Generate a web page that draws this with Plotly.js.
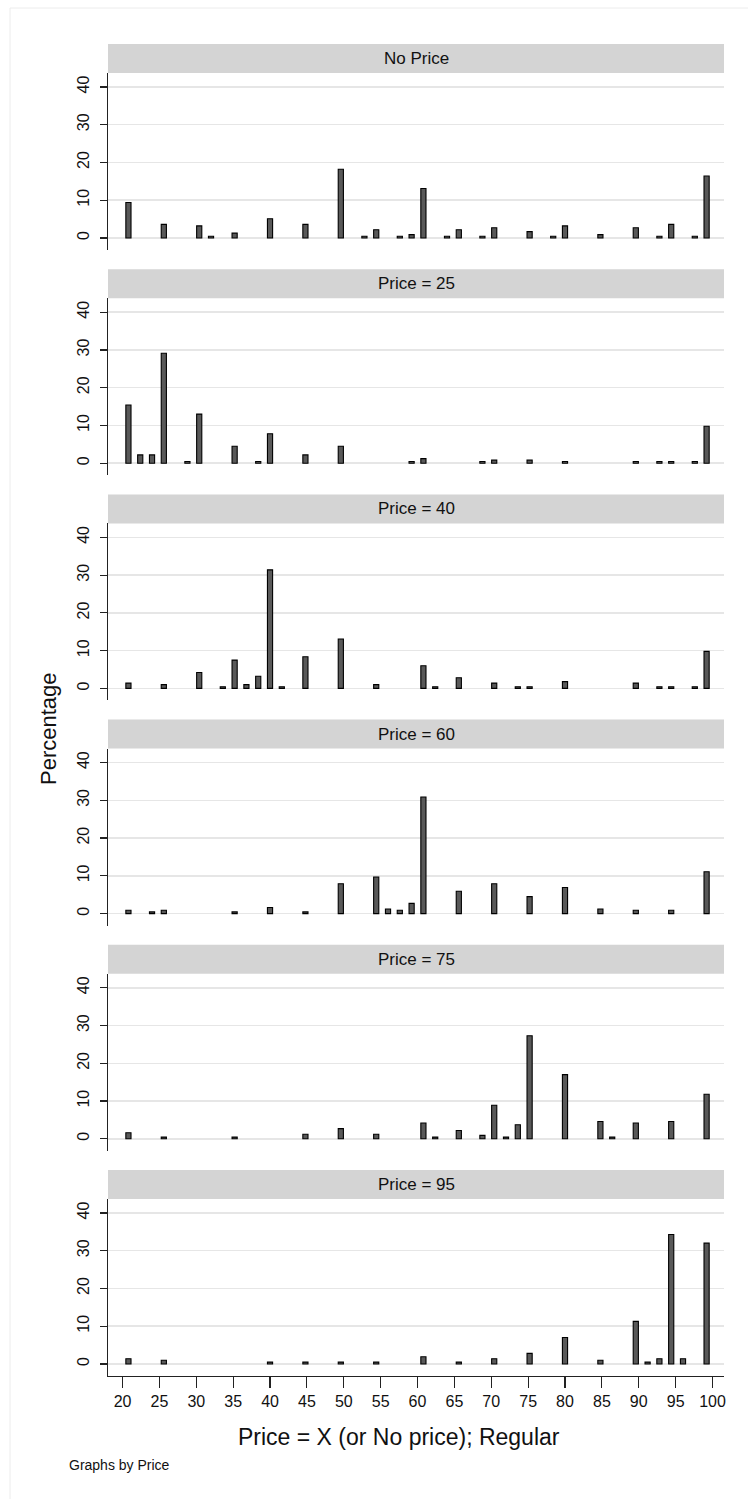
<!DOCTYPE html>
<html>
<head>
<meta charset="utf-8">
<script src="https://cdn.plot.ly/plotly-3.0.1.min.js"></script>
<style>html,body{margin:0;padding:0;background:#fff;}#chart{width:748px;height:1499px;}</style>
</head>
<body>
<div id="chart"></div>
<script>
// ---- data (percentages per histogram bin, bin width 1.6 from 20 to 100) ----
var panelTitles = ["No Price", "Price = 25", "Price = 40", "Price = 60", "Price = 75", "Price = 95"];

var noPriceX = [20.8, 25.6, 30.4, 32.0, 35.2, 40.0, 44.8, 49.6, 52.8, 54.4, 57.6, 59.2, 60.8, 64.0, 65.6, 68.8, 70.4, 75.2, 78.4, 80.0, 84.8, 89.6, 92.8, 94.4, 97.6, 99.2];
var noPriceY = [9.4, 3.6, 3.2, 0.45, 1.3, 5.1, 3.6, 18.2, 0.45, 2.2, 0.45, 0.9, 13.1, 0.45, 2.2, 0.45, 2.7, 1.7, 0.45, 3.2, 0.9, 2.7, 0.45, 3.6, 0.45, 16.4];

var price25X = [20.8, 22.4, 24.0, 25.6, 28.8, 30.4, 35.2, 38.4, 40.0, 44.8, 49.6, 59.2, 60.8, 68.8, 70.4, 75.2, 80.0, 89.6, 92.8, 94.4, 97.6, 99.2];
var price25Y = [15.4, 2.2, 2.2, 29.1, 0.45, 13.0, 4.5, 0.45, 7.8, 2.2, 4.5, 0.45, 1.2, 0.45, 0.8, 0.8, 0.45, 0.45, 0.45, 0.45, 0.45, 9.8];

var price40X = [20.8, 25.6, 30.4, 33.6, 35.2, 36.8, 38.4, 40.0, 41.6, 44.8, 49.6, 54.4, 60.8, 62.4, 65.6, 70.4, 73.6, 75.2, 80.0, 89.6, 92.8, 94.4, 97.6, 99.2];
var price40Y = [1.4, 1.0, 4.2, 0.45, 7.5, 1.0, 3.2, 31.4, 0.45, 8.4, 13.1, 1.0, 6.0, 0.45, 2.8, 1.4, 0.45, 0.45, 1.8, 1.4, 0.45, 0.45, 0.45, 9.8];

var price60X = [20.8, 24.0, 25.6, 35.2, 40.0, 44.8, 49.6, 54.4, 56.0, 57.6, 59.2, 60.8, 65.6, 70.4, 75.2, 80.0, 84.8, 89.6, 94.4, 99.2];
var price60Y = [0.9, 0.45, 0.9, 0.45, 1.6, 0.45, 7.9, 9.7, 1.2, 0.9, 2.7, 30.9, 5.9, 7.9, 4.5, 6.9, 1.2, 0.9, 0.9, 11.1];

var price75X = [20.8, 25.6, 35.2, 44.8, 49.6, 54.4, 60.8, 62.4, 65.6, 68.8, 70.4, 72.0, 73.6, 75.2, 80.0, 84.8, 86.4, 89.6, 94.4, 99.2];
var price75Y = [1.6, 0.45, 0.45, 1.2, 2.7, 1.2, 4.2, 0.45, 2.2, 0.9, 8.9, 0.45, 3.7, 27.3, 17.0, 4.6, 0.45, 4.2, 4.6, 11.8];

var price95X = [20.8, 25.6, 40.0, 44.8, 49.6, 54.4, 60.8, 65.6, 70.4, 75.2, 80.0, 84.8, 89.6, 91.2, 92.8, 94.4, 96.0, 99.2];
var price95Y = [1.4, 1.0, 0.5, 0.5, 0.5, 0.5, 1.9, 0.5, 1.4, 2.8, 7.0, 1.0, 11.3, 0.5, 1.4, 34.3, 1.4, 32.0];

var xTicks = [20, 25, 30, 35, 40, 45, 50, 55, 60, 65, 70, 75, 80, 85, 90, 95, 100];
var yTicks = [0, 10, 20, 30, 40];

var xTitle = "Price = X (or No price); Regular";
var yTitle = "Percentage";
var note = "Graphs by Price";

// ---- layout helpers ----
var W = 748, H = 1499;
var FONT = "Liberation Sans, Arial, Helvetica, sans-serif";
function px(x) { return x / W; }
function py(y) { return 1 - y / H; }

var seriesX = [noPriceX, price25X, price40X, price60X, price75X, price95X];
var seriesY = [noPriceY, price25Y, price40Y, price60Y, price75Y, price95Y];

var plotLeft = 108, plotRight = 724;
var firstStrip = 44, period = 225.2, stripH = 29, panelH = 206;

var traces = [], shapes = [], annotations = [];
var layout = {
  width: W, height: H,
  margin: {l: 0, r: 0, t: 0, b: 0},
  paper_bgcolor: "#ffffff",
  plot_bgcolor: "rgba(0,0,0,0)",
  showlegend: false,
  bargap: 0,
  font: {family: FONT, color: "#111"}
};

for (var i = 0; i < 6; i++) {
  var stripTop = firstStrip + period * i;
  var plotTop = stripTop + stripH, plotBot = stripTop + panelH;
  var n = i + 1;
  var xname = i === 0 ? "x" : "x" + n;
  var yname = i === 0 ? "y" : "y" + n;
  var xkey = i === 0 ? "xaxis" : "xaxis" + n;
  var ykey = i === 0 ? "yaxis" : "yaxis" + n;
  var isLast = (i === 5);
  traces.push({
    type: "bar",
    x: seriesX[i], y: seriesY[i],
    xaxis: xname, yaxis: yname,
    width: 0.7,
    marker: {color: "#595959", line: {color: "#000000", width: 1.1}},
    hoverinfo: "x+y"
  });
  layout[xkey] = {
    domain: [px(plotLeft), px(plotRight)],
    range: [18.03, 101.56],
    anchor: yname,
    tickmode: "array", tickvals: xTicks, ticktext: xTicks.map(String),
    ticks: isLast ? "outside" : "", ticklen: 11, tickwidth: 1.2, tickcolor: "#222",
    showticklabels: isLast,
    showline: isLast, linecolor: "#222", linewidth: 1.2,
    showgrid: false, zeroline: false,
    tickfont: {size: 16, family: FONT, color: "#111"},
    automargin: false
  };
  layout[ykey] = {
    domain: [py(plotBot), py(plotTop)],
    range: [-3.18, 43.7],
    anchor: xname,
    tickmode: "array", tickvals: yTicks, ticktext: yTicks.map(String),
    ticks: "outside", ticklen: 7, tickwidth: 1.2, tickcolor: "#222",
    tickangle: -90,
    ticklabelstandoff: 4,
    showline: true, linecolor: "#222", linewidth: 1.2,
    showgrid: true, gridcolor: "#e6e6e6", gridwidth: 1.5,
    zeroline: false,
    tickfont: {size: 16, family: FONT, color: "#111"},
    automargin: false
  };
  shapes.push({
    type: "rect", xref: "paper", yref: "paper",
    x0: px(plotLeft), x1: px(plotRight), y0: py(plotTop), y1: py(stripTop),
    fillcolor: "#d4d4d4", line: {width: 0}, layer: "below"
  });
  annotations.push({
    xref: "paper", yref: "paper",
    x: px((plotLeft + plotRight) / 2), y: py(stripTop + stripH / 2),
    text: panelTitles[i], showarrow: false,
    xanchor: "center", yanchor: "middle",
    font: {size: 17, family: FONT, color: "#111"}
  });
}

// outer frame lines
shapes.push({type: "line", xref: "paper", yref: "paper", x0: px(10), x1: px(10), y0: py(8), y1: py(1499), line: {color: "#ececec", width: 1}});
shapes.push({type: "line", xref: "paper", yref: "paper", x0: px(10), x1: px(748), y0: py(8), y1: py(8), line: {color: "#ececec", width: 1}});

annotations.push({
  xref: "paper", yref: "paper", x: px(48), y: py(729),
  text: yTitle, showarrow: false, textangle: -90,
  xanchor: "center", yanchor: "middle",
  font: {size: 22, family: FONT, color: "#111"}
});
annotations.push({
  xref: "paper", yref: "paper", x: px(399), y: py(1437),
  text: xTitle, showarrow: false,
  xanchor: "center", yanchor: "middle",
  font: {size: 23, family: FONT, color: "#111"}
});
annotations.push({
  xref: "paper", yref: "paper", x: px(67), y: py(1465),
  text: note, showarrow: false,
  xanchor: "left", yanchor: "middle",
  font: {size: 14, family: FONT, color: "#111"}
});

layout.shapes = shapes;
layout.annotations = annotations;

Plotly.newPlot("chart", traces, layout, {displayModeBar: false, staticPlot: true});
</script>
</body>
</html>
